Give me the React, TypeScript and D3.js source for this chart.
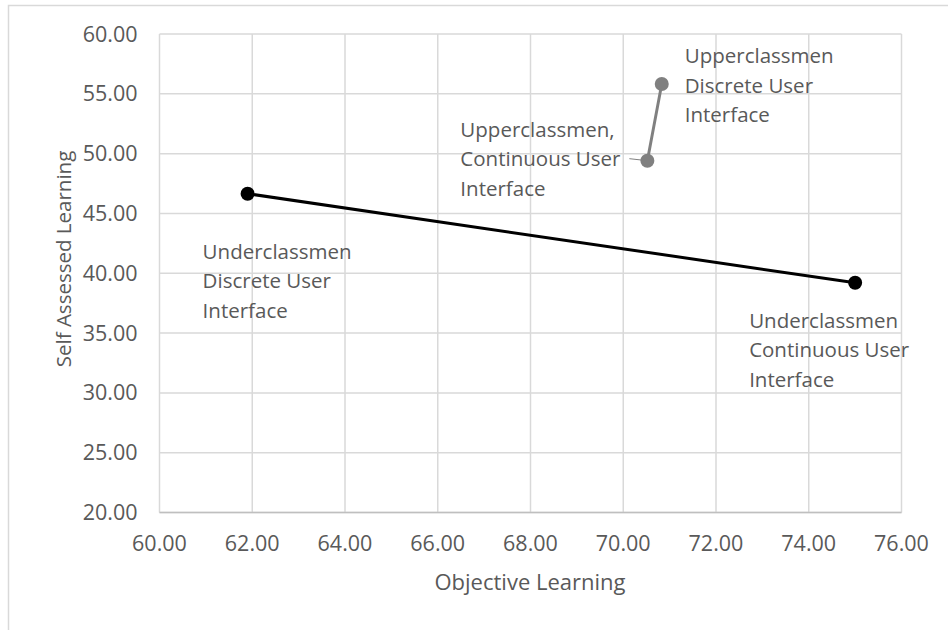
import React from "react";
import * as d3 from "d3";

// values
const underclassX = [61.9, 75.0];
const underclassY = [46.65, 39.2];
const upperclassX = [70.52, 70.83];
const upperclassY = [49.41, 55.82];

const underclassLabels = [
  ["Underclassmen", "Discrete User", "Interface"],
  ["Underclassmen", "Continuous User", "Interface"],
];
const upperclassLabels = [
  ["Upperclassmen,", "Continuous User", "Interface"],
  ["Upperclassmen", "Discrete User", "Interface"],
];

const xTicks = [60, 62, 64, 66, 68, 70, 72, 74, 76];
const yTicks = [20, 25, 30, 35, 40, 45, 50, 55, 60];

const xTitle = "Objective Learning";
const yTitle = "Self Assessed Learning";

const W = 948;
const H = 630;
const plot = { left: 159.5, right: 901.5, top: 34, bottom: 512.5 };
const font = "'Open Sans', 'Noto Sans', sans-serif";
const textColor = "#595959";
const gridColor = "#d9d9d9";

// label placement relative to its point: left edge offset, first line centre offset
const underOffsets = [
  { dx: -45, dy: 58 },
  { dx: -106, dy: 38 },
];
const upperOffsets = [
  { dx: -187, dy: -31, leader: true },
  { dx: 23, dy: -28 },
];

export default function App() {
  const x = d3.scaleLinear().domain([60, 76]).range([plot.left, plot.right]);
  const y = d3.scaleLinear().domain([20, 60]).range([plot.bottom, plot.top]);
  const fmt = d3.format(".2f");

  const under = underclassX.map((v, i) => ({ x: v, y: underclassY[i] }));
  const upper = upperclassX.map((v, i) => ({ x: v, y: upperclassY[i] }));
  const line = d3
    .line<{ x: number; y: number }>()
    .x((d) => x(d.x))
    .y((d) => y(d.y));

  const lineH = 29.5;
  const renderLabel = (
    lines: string[],
    px: number,
    py: number,
    off: { dx: number; dy: number },
    key: string
  ) => (
    <text key={key} fontFamily={font} fontSize={20.5} fill={textColor}>
      {lines.map((t, j) => (
        <tspan key={j} x={px + off.dx} y={py + off.dy + j * lineH + 7}>
          {t}
        </tspan>
      ))}
    </text>
  );

  return (
    <svg width={W} height={H} style={{ position: "absolute", left: 0, top: 0 }}>
      <rect x={0} y={0} width={W} height={H} fill="#fff" />
      <rect x={8.5} y={5.5} width={W + 20} height={H + 20} fill="none" stroke={gridColor} strokeWidth={1.5} />

      {/* grid */}
      {xTicks.map((t) => (
        <line key={"gx" + t} x1={x(t)} x2={x(t)} y1={plot.top} y2={plot.bottom} stroke={gridColor} strokeWidth={1.5} />
      ))}
      {yTicks.map((t) => (
        <line key={"gy" + t} x1={plot.left} x2={plot.right} y1={y(t)} y2={y(t)} stroke={gridColor} strokeWidth={1.5} />
      ))}
      <line x1={plot.left} x2={plot.right} y1={plot.bottom} y2={plot.bottom} stroke="#bfbfbf" strokeWidth={1.5} />

      {/* tick labels */}
      {xTicks.map((t) => (
        <text key={"tx" + t} x={x(t)} y={y(20) + 38.5} textAnchor="middle" fontFamily={font} fontSize={21.5} fill={textColor}>
          {fmt(t)}
        </text>
      ))}
      {yTicks.map((t) => (
        <text key={"ty" + t} x={plot.left - 22} y={y(t) + 7.5} textAnchor="end" fontFamily={font} fontSize={21.5} fill={textColor}>
          {fmt(t)}
        </text>
      ))}

      {/* axis titles */}
      <text x={530} y={590} textAnchor="middle" fontFamily={font} fontSize={22} fill={textColor}>
        {xTitle}
      </text>
      <text
        transform={`translate(71,259) rotate(-90)`}
        textAnchor="middle"
        fontFamily={font}
        fontSize={20.5}
        fill={textColor}
      >
        {yTitle}
      </text>

      {/* series */}
      <path d={line(upper) || ""} fill="none" stroke="#808080" strokeWidth={3} />
      {upper.map((d, i) => (
        <circle key={"u" + i} cx={x(d.x)} cy={y(d.y)} r={7} fill="#808080" />
      ))}
      <path d={line(under) || ""} fill="none" stroke="#000" strokeWidth={3} />
      {under.map((d, i) => (
        <circle key={"d" + i} cx={x(d.x)} cy={y(d.y)} r={7} fill="#000" />
      ))}

      {/* data labels */}
      {under.map((d, i) => renderLabel(underclassLabels[i], x(d.x), y(d.y), underOffsets[i], "ul" + i))}
      {upper.map((d, i) => renderLabel(upperclassLabels[i], x(d.x), y(d.y), upperOffsets[i], "pl" + i))}
      {upper.map((d, i) =>
        upperOffsets[i].leader ? (
          <line
            key={"ld" + i}
            x1={x(d.x) - 18}
            x2={x(d.x)}
            y1={y(d.y) - 2}
            y2={y(d.y)}
            stroke="#808080"
            strokeWidth={1}
          />
        ) : null
      )}
    </svg>
  );
}
